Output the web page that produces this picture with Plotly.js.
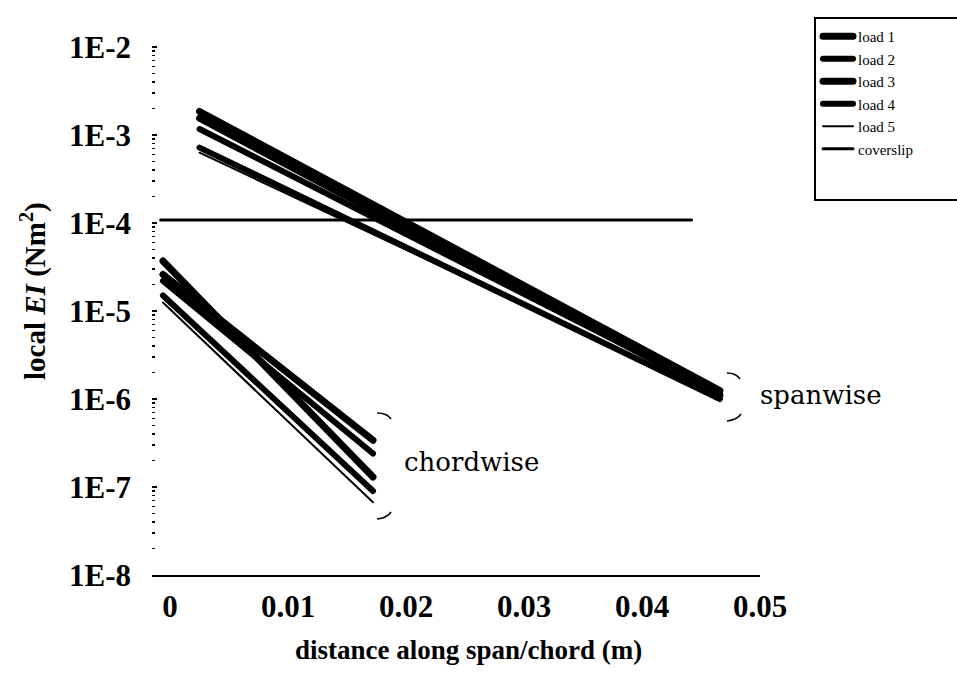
<!DOCTYPE html>
<html>
<head>
<meta charset="utf-8">
<script src="https://cdn.plot.ly/plotly-3.0.1.min.js"></script>
<style>
  html, body { margin: 0; padding: 0; background: #fff; }
  #chart { width: 957px; height: 674px; }
  path.js-line { stroke-linecap: round; }
</style>
</head>
<body>
<div id="chart"></div>
<script>
// ---- data ----
const spanX  = [0.0025, 0.0466];     // spanwise segment, distance (m)
const chordX = [-0.0006, 0.0172];    // chordwise segment, distance (m)

const load1Span  = [1.85e-3, 1.25e-6];
const load2Span  = [1.17e-3, 1.15e-6];
const load3Span  = [1.55e-3, 1.1e-6];
const load4Span  = [7.2e-4, 1.0e-6];
const load5Span  = [6.3e-4, 1.05e-6];

const load1Chord = [2.6e-5, 3.4e-7];
const load2Chord = [2.2e-5, 2.4e-7];
const load3Chord = [3.7e-5, 1.3e-7];
const load4Chord = [1.5e-5, 9.0e-8];
const load5Chord = [1.25e-5, 6.7e-8];

const coverslipX = [-0.0008, 0.0442];
const coverslipY = [1.08e-4, 1.08e-4];

const seriesNames = ['load 1', 'load 2', 'load 3', 'load 4', 'load 5', 'coverslip'];
const seriesWidths = [7, 6, 7, 6, 2, 3];

const xTickVals = [0, 0.01, 0.02, 0.03, 0.04, 0.05];
const xTickText = ['0', '0.01', '0.02', '0.03', '0.04', '0.05'];
const yTickVals = [1e-8, 1e-7, 1e-6, 1e-5, 1e-4, 1e-3, 1e-2];
const yTickText = ['1E-8', '1E-7', '1E-6', '1E-5', '1E-4', '1E-3', '1E-2'];

// ---- traces ----
const spans  = [load1Span, load2Span, load3Span, load4Span, load5Span];
const chords = [load1Chord, load2Chord, load3Chord, load4Chord, load5Chord];

const traces = spans.map((s, i) => ({
  type: 'scatter', mode: 'lines', name: seriesNames[i],
  x: spanX.concat([null]).concat(chordX),
  y: s.concat([null]).concat(chords[i]),
  connectgaps: false,
  line: { color: '#000', width: seriesWidths[i] }
}));
traces.push({
  type: 'scatter', mode: 'lines', name: seriesNames[5],
  x: coverslipX, y: coverslipY,
  line: { color: '#000', width: seriesWidths[5] }
});

// ---- layout ----
const W = 957, H = 674;
const L = 152, R = 197, T = 40, B = 99;
const pw = W - L - R, ph = H - T - B;
const px = v => (v - L) / pw;
const py = v => (H - B - v) / ph;
const serif = 'Liberation Serif, Times New Roman, serif';

function pathPx(points) {
  const p = points.map(([a, b]) => [px(a).toFixed(4), py(b).toFixed(4)]);
  return `M ${p[0][0]},${p[0][1]} Q ${p[1][0]},${p[1][1]} ${p[2][0]},${p[2][1]}`;
}

const braceStyle = { color: '#000', width: 1.5 };
const shapes = [
  { type: 'path', xref: 'paper', yref: 'paper', path: pathPx([[727, 373], [736, 373], [740, 379]]), line: braceStyle },
  { type: 'path', xref: 'paper', yref: 'paper', path: pathPx([[727, 421], [737, 420], [741, 414]]), line: braceStyle },
  { type: 'path', xref: 'paper', yref: 'paper', path: pathPx([[377, 413], [387, 413], [391, 419]]), line: braceStyle },
  { type: 'path', xref: 'paper', yref: 'paper', path: pathPx([[377, 519], [387, 518], [391, 512]]), line: braceStyle },
  // legend frame
  { type: 'rect', xref: 'paper', yref: 'paper',
    x0: px(815), x1: px(965), y0: py(200), y1: py(18),
    line: { color: '#000', width: 2 }, fillcolor: 'rgba(0,0,0,0)' }
];

const layout = {
  width: W, height: H,
  margin: { l: L, r: R, t: T, b: B, pad: 0 },
  paper_bgcolor: '#fff', plot_bgcolor: '#fff',
  font: { family: serif, color: '#000' },
  showlegend: true,
  legend: {
    xref: 'container', yref: 'container',
    x: 818 / W, y: 1 - 20 / H, xanchor: 'left', yanchor: 'top',
    bgcolor: 'rgba(0,0,0,0)', borderwidth: 0,
    font: { family: serif, size: 15, color: '#000' },
    tracegroupgap: 0
  },
  xaxis: {
    range: [-0.00153, 0.05],
    showgrid: false, zeroline: false,
    showline: true, linecolor: '#000', linewidth: 2,
    ticks: '',
    tickmode: 'array', tickvals: xTickVals, ticktext: xTickText,
    tickfont: { family: serif, size: 31, weight: 'bold', color: '#000' },
    ticklabelstandoff: 3,
    automargin: false
  },
  yaxis: {
    type: 'log',
    range: [-8, -1.92],
    showgrid: false, zeroline: false, showline: false,
    ticks: 'inside', ticklen: 5, tickwidth: 2, tickcolor: '#000',
    tickmode: 'array', tickvals: yTickVals, ticktext: yTickText,
    minor: { ticks: 'inside', ticklen: 3, tickwidth: 1.5, tickcolor: '#000', dtick: 'D1', showgrid: false },
    tickfont: { family: serif, size: 31, weight: 'bold', color: '#000' },
    ticklabelstandoff: 20,
    automargin: false
  },
  annotations: [
    // axis titles
    { xref: 'paper', yref: 'paper', x: px(468), y: py(650), xanchor: 'center', yanchor: 'middle',
      text: '<b>distance along span/chord (m)</b>', showarrow: false,
      font: { family: serif, size: 27, color: '#000' } },
    { xref: 'paper', yref: 'paper', x: px(33), y: py(291), xanchor: 'center', yanchor: 'middle',
      textangle: -90, text: '<b>local <i>EI</i> (Nm<sup>2</sup>)</b>', showarrow: false,
      font: { family: serif, size: 29, color: '#000' } },
    // group labels
    { xref: 'x', yref: 'y', x: 0.0498, y: Math.log10(1.1e-6), xanchor: 'left', yanchor: 'middle',
      text: 'spanwise', showarrow: false,
      font: { family: 'DejaVu Serif, serif', size: 26, color: '#000' } },
    { xref: 'x', yref: 'y', x: 0.0197, y: Math.log10(1.9e-7), xanchor: 'left', yanchor: 'middle',
      text: 'chordwise', showarrow: false,
      font: { family: 'DejaVu Serif, serif', size: 26, color: '#000' } }
  ],
  shapes: shapes
};

Plotly.newPlot('chart', traces, layout, { displayModeBar: false, staticPlot: true });
</script>
</body>
</html>
